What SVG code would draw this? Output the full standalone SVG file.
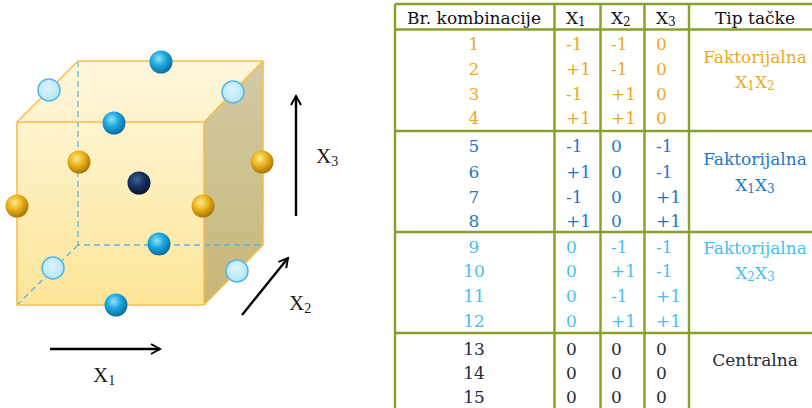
<svg xmlns="http://www.w3.org/2000/svg" width="812" height="408" viewBox="0 0 812 408">
<defs>
<linearGradient id="gFront" x1="0" y1="0" x2="0" y2="1"><stop offset="0" stop-color="#FEF4CF"/><stop offset="1" stop-color="#FDE597"/></linearGradient>
<linearGradient id="gTop" x1="0" y1="0" x2="0" y2="1"><stop offset="0" stop-color="#FEF7DC"/><stop offset="1" stop-color="#FEF2CC"/></linearGradient>
<linearGradient id="gRight" x1="0" y1="0" x2="0" y2="1"><stop offset="0" stop-color="#D2CBA6"/><stop offset="1" stop-color="#C8B677"/></linearGradient>
<radialGradient id="gGold" cx="0.4" cy="0.35" r="0.65"><stop offset="0" stop-color="#FFEB8E"/><stop offset="0.5" stop-color="#EBB21A"/><stop offset="1" stop-color="#A97704"/></radialGradient>
<radialGradient id="gBlue" cx="0.4" cy="0.35" r="0.65"><stop offset="0" stop-color="#8FE2F8"/><stop offset="0.5" stop-color="#1BA6DF"/><stop offset="1" stop-color="#0C6E9F"/></radialGradient>
<radialGradient id="gNavy" cx="0.4" cy="0.35" r="0.65"><stop offset="0" stop-color="#3C6294"/><stop offset="0.55" stop-color="#13305A"/><stop offset="1" stop-color="#071732"/></radialGradient>
<radialGradient id="gLight" cx="0.45" cy="0.4" r="0.6"><stop offset="0" stop-color="#DDF4FD"/><stop offset="1" stop-color="#B7E5F8"/></radialGradient>
<marker id="chev" viewBox="0 0 12 12" refX="10" refY="6" markerWidth="12" markerHeight="12" markerUnits="userSpaceOnUse" orient="auto"><path d="M1,1 L10,6 L1,11" fill="none" stroke="#000" stroke-width="2"/></marker>
</defs>
<style>
.edge{fill:none;stroke:#F3BF52;stroke-width:1.6;stroke-linejoin:round}
.dash{fill:none;stroke:#58B6E2;stroke-width:1.3;stroke-dasharray:6 4}
.gold{fill:url(#gGold)}
.blue{fill:url(#gBlue)}
.navy{fill:url(#gNavy)}
.light{fill:url(#gLight);stroke:#55B9E8;stroke-width:1.6}
.axis{stroke:#000;stroke-width:2.4;fill:none;marker-end:url(#chev)}
.axl{font-family:"Liberation Serif","DejaVu Serif",serif;font-size:21px;fill:#1a1a1a}
.grid{stroke:#86A02B;stroke-width:2.4;fill:none}
.t{font-family:"DejaVu Serif","Liberation Serif",serif;font-size:17px}
.c{text-anchor:middle}
.h{fill:#111}
.o{fill:#EDA923}
.b{fill:#2279C6}
.lb{fill:#46BEF4}
.k{fill:#262B3A}
</style>

<g id="cube">
<polygon points="17,122 78,61 263,61 204,122" fill="url(#gTop)"/>
<polygon points="204,122 263,61 263,245 204,305" fill="url(#gRight)"/>
<rect x="17" y="122" width="187" height="183" fill="url(#gFront)"/>
<path class="dash" d="M78,61 V245 H263 M78,245 L17,305"/>
<path class="edge" d="M17,122 L78,61 H263 L204,122 Z M17,122 V305 H204 V122 M204,305 L263,245 V61"/>
</g>

<g id="points">
<circle class="blue" cx="161" cy="62" r="11.5"/>
<circle class="light" cx="49" cy="90" r="11"/>
<circle class="light" cx="233" cy="92" r="11"/>
<circle class="blue" cx="114" cy="123" r="11.5"/>
<circle class="gold" cx="79" cy="162" r="11.5"/>
<circle class="gold" cx="262" cy="162" r="11.5"/>
<circle class="gold" cx="17" cy="206" r="11.5"/>
<circle class="gold" cx="203" cy="206" r="11.5"/>
<circle class="navy" cx="139" cy="183" r="11.5"/>
<circle class="blue" cx="159" cy="244" r="11.5"/>
<circle class="light" cx="53" cy="268" r="11"/>
<circle class="light" cx="237" cy="271" r="11"/>
<circle class="blue" cx="116" cy="305" r="11.5"/>
</g>

<g id="connectors">
<line class="axis" x1="296" y1="216" x2="296" y2="96"/>
<line class="axis" x1="242" y1="315" x2="288" y2="258"/>
<line class="axis" x1="50" y1="349" x2="160" y2="349"/>
</g>

<g id="axis-labels">
<text class="axl" x="316" y="163">X<tspan font-size="14" dy="3">3</tspan></text>
<text class="axl" x="289" y="310">X<tspan font-size="14" dy="3">2</tspan></text>
<text class="axl" x="93" y="382">X<tspan font-size="14" dy="3">1</tspan></text>
</g>

<g id="table">
<g id="table-grid">
<path class="grid" d="M395,4 H812 M395,29.5 H812 M395,131 H812 M395,232 H812 M395,333 H812"/>
<path class="grid" d="M395,4 V408 M554.5,4 V408 M600.5,4 V408 M644.5,4 V408 M689,4 V408"/>
</g>
<g id="header" class="t h">
<text class="c" x="474" y="24">Br. kombinacije</text>
<text x="566" y="24">X<tspan font-size="12" dy="2">1</tspan></text>
<text x="611" y="24">X<tspan font-size="12" dy="2">2</tspan></text>
<text x="656" y="24">X<tspan font-size="12" dy="2">3</tspan></text>
<text class="c" x="755" y="24">Tip tačke</text>
</g>
<g id="section-x1x2" class="t o">
<text class="c" x="474" y="50">1</text><text x="566" y="50">-1</text><text x="611" y="50">-1</text><text x="656" y="50">0</text>
<text class="c" x="474" y="75">2</text><text x="566" y="75">+1</text><text x="611" y="75">-1</text><text x="656" y="75">0</text>
<text class="c" x="474" y="100">3</text><text x="566" y="100">-1</text><text x="611" y="100">+1</text><text x="656" y="100">0</text>
<text class="c" x="474" y="124">4</text><text x="566" y="124">+1</text><text x="611" y="124">+1</text><text x="656" y="124">0</text>
<text class="c" x="755" y="63">Faktorijalna</text>
<text class="c" x="755" y="88">X<tspan font-size="12" dy="2">1</tspan><tspan dy="-2">X</tspan><tspan font-size="12" dy="2">2</tspan></text>
</g>
<g id="section-x1x3" class="t b">
<text class="c" x="474" y="152">5</text><text x="566" y="152">-1</text><text x="611" y="152">0</text><text x="656" y="152">-1</text>
<text class="c" x="474" y="178">6</text><text x="566" y="178">+1</text><text x="611" y="178">0</text><text x="656" y="178">-1</text>
<text class="c" x="474" y="203">7</text><text x="566" y="203">-1</text><text x="611" y="203">0</text><text x="656" y="203">+1</text>
<text class="c" x="474" y="227">8</text><text x="566" y="227">+1</text><text x="611" y="227">0</text><text x="656" y="227">+1</text>
<text class="c" x="755" y="165">Faktorijalna</text>
<text class="c" x="755" y="191">X<tspan font-size="12" dy="2">1</tspan><tspan dy="-2">X</tspan><tspan font-size="12" dy="2">3</tspan></text>
</g>
<g id="section-x2x3" class="t lb">
<text class="c" x="474" y="253">9</text><text x="566" y="253">0</text><text x="611" y="253">-1</text><text x="656" y="253">-1</text>
<text class="c" x="474" y="277">10</text><text x="566" y="277">0</text><text x="611" y="277">+1</text><text x="656" y="277">-1</text>
<text class="c" x="474" y="302">11</text><text x="566" y="302">0</text><text x="611" y="302">-1</text><text x="656" y="302">+1</text>
<text class="c" x="474" y="327">12</text><text x="566" y="327">0</text><text x="611" y="327">+1</text><text x="656" y="327">+1</text>
<text class="c" x="755" y="254">Faktorijalna</text>
<text class="c" x="755" y="279">X<tspan font-size="12" dy="2">2</tspan><tspan dy="-2">X</tspan><tspan font-size="12" dy="2">3</tspan></text>
</g>
<g id="section-central" class="t k">
<text class="c" x="474" y="355">13</text><text x="566" y="355">0</text><text x="611" y="355">0</text><text x="656" y="355">0</text>
<text class="c" x="474" y="379">14</text><text x="566" y="379">0</text><text x="611" y="379">0</text><text x="656" y="379">0</text>
<text class="c" x="474" y="403">15</text><text x="566" y="403">0</text><text x="611" y="403">0</text><text x="656" y="403">0</text>
<text class="c" x="755" y="366">Centralna</text>
</g>
</g>
</svg>
